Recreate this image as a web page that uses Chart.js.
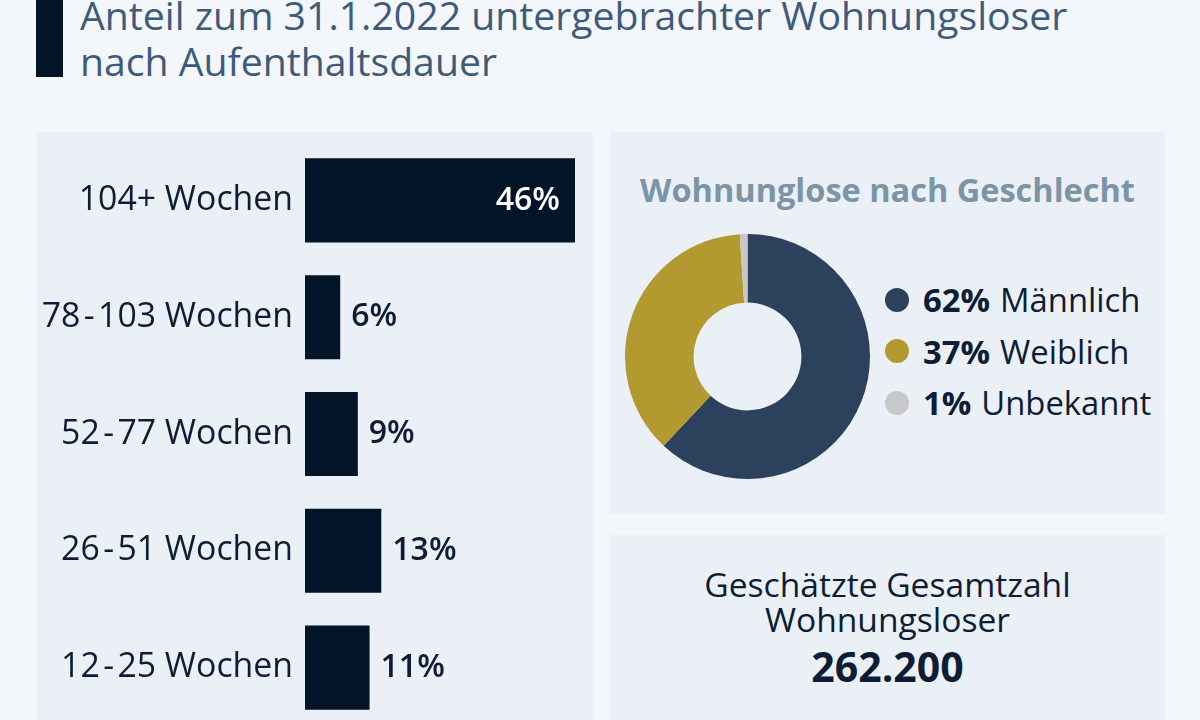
<!DOCTYPE html>
<html>
<head>
<meta charset="utf-8">
<script src="https://cdn.jsdelivr.net/npm/chart.js@4.4.1/dist/chart.umd.min.js"></script>
<style>
  html, body { margin: 0; padding: 0; }
  body {
    width: 1200px; height: 720px; overflow: hidden; position: relative;
    background: #f3f6fa; font-family: "Open Sans", sans-serif; color: #0c1d35;
  }
  .titlebar { position: absolute; left: 36px; top: 0; width: 27px; height: 77px; background: #011428; }
  .title {
    position: absolute; left: 80px; top: -8px; font-size: 39.2px; line-height: 46px;
    color: #3e5b7c; white-space: nowrap;
  }
  .panel { position: absolute; background: #ebf0f7; overflow: hidden; }
  #barPanel { left: 37px; top: 132px; width: 556px; height: 588px; }
  #barWrap { position: absolute; left: 0; top: 10px; width: 556px; height: 584px; }
  #piePanel { left: 610px; top: 132px; width: 555px; height: 382px; }
  #totalPanel { left: 610px; top: 535px; width: 555px; height: 185px; }
  .pieTitle {
    position: absolute; left: 0; width: 555px; top: 35px; text-align: center;
    font-size: 32.5px; font-weight: 700; color: #7b95a7; white-space: nowrap;
  }
  #pieWrap { position: absolute; left: 15px; top: 102px; width: 245px; height: 245px; }
  #legend { position: absolute; left: 275px; top: 142px; }
  .item { display: flex; align-items: center; height: 51.5px; font-size: 32.8px; white-space: nowrap; }
  .dot { width: 24px; height: 24px; border-radius: 50%; margin-right: 14px; }
  .item b { font-weight: 700; margin-right: 10px; }
  .total { position: absolute; left: 0; width: 555px; top: 32px; text-align: center; }
  .total .lbl { font-size: 33.6px; line-height: 35px; }
  .total .num { font-size: 41px; font-weight: 700; line-height: 58px; }
</style>
</head>
<body>
<div class="titlebar"></div>
<div class="title">Anteil zum 31.1.2022 untergebrachter Wohnungsloser<br>nach Aufenthaltsdauer</div>

<div class="panel" id="barPanel"><div id="barWrap"><canvas id="bars"></canvas></div></div>

<div class="panel" id="piePanel">
  <div class="pieTitle">Wohnunglose nach Geschlecht</div>
  <div id="pieWrap"><canvas id="pie"></canvas></div>
  <div id="legend"></div>
</div>

<div class="panel" id="totalPanel">
  <div class="total">
    <div class="lbl">Geschätzte Gesamtzahl<br>Wohnungsloser</div>
    <div class="num" id="totalNum"></div>
  </div>
</div>

<script>
// Aufenthaltsdauer
const durations = ["104+ Wochen", "78\u200A-\u200A103 Wochen", "52\u200A-\u200A77 Wochen", "26\u200A-\u200A51 Wochen", "12\u200A-\u200A25 Wochen"];
const durationShares = [46, 6, 9, 13, 11];

// Geschlecht
const genders = ["Männlich", "Weiblich", "Unbekannt"];
const genderShares = [62, 37, 1];
const genderColors = ["#2b415c", "#b39a30", "#c8c8c8"];

const totalHomeless = "262.200";

Chart.defaults.font.family = "'Open Sans', sans-serif";
Chart.defaults.color = "#0c1d35";

// Prozentwerte an die Balken schreiben
const barLabels = {
  id: "barLabels",
  afterDatasetsDraw(chart) {
    const ctx = chart.ctx;
    const meta = chart.getDatasetMeta(0);
    ctx.save();
    ctx.font = "600 32px 'Open Sans'";
    ctx.textBaseline = "middle";
    meta.data.forEach((bar, i) => {
      const txt = durationShares[i] + "%";
      if (bar.x - bar.base > 150) {
        ctx.fillStyle = "#ffffff";
        ctx.textAlign = "right";
        ctx.fillText(txt, bar.x - 15, bar.y);
      } else {
        ctx.fillStyle = "#0c1d35";
        ctx.textAlign = "left";
        ctx.fillText(txt, bar.x + 11, bar.y);
      }
    });
    ctx.restore();
  }
};

new Chart(document.getElementById("bars"), {
  type: "bar",
  data: {
    labels: durations,
    datasets: [{
      data: durationShares,
      backgroundColor: "#011428",
      borderWidth: 0,
      categoryPercentage: 1,
      barPercentage: 0.72
    }]
  },
  options: {
    indexAxis: "y",
    responsive: true,
    maintainAspectRatio: false,
    animation: false,
    layout: { padding: { top: 0, bottom: 0, left: 0, right: 18 } },
    plugins: { legend: { display: false }, tooltip: { enabled: false } },
    scales: {
      x: { display: false, min: 0, max: Math.max(...durationShares) },
      y: {
        grid: { display: false, drawTicks: false },
        border: { display: false },
        ticks: { padding: 12, color: "#0c1d35", font: { size: 33.8 } },
        afterFit: (scale) => {
          scale.width = 268;
          scale.paddingTop = 0;
          scale.paddingBottom = 0;
        }
      }
    }
  },
  plugins: [barLabels]
});

new Chart(document.getElementById("pie"), {
  type: "doughnut",
  data: {
    labels: genders,
    datasets: [{ data: genderShares, backgroundColor: genderColors, borderWidth: 0 }]
  },
  options: {
    responsive: true,
    maintainAspectRatio: false,
    animation: false,
    cutout: "44%",
    plugins: { legend: { display: false }, tooltip: { enabled: false } }
  }
});

let html = "";
genders.forEach((g, i) => {
  html += `<div class="item"><span class="dot" style="background:${genderColors[i]}"></span><b>${genderShares[i]}%</b>${g}</div>`;
});
document.getElementById("legend").innerHTML = html;
document.getElementById("totalNum").textContent = totalHomeless;
</script>
</body>
</html>
